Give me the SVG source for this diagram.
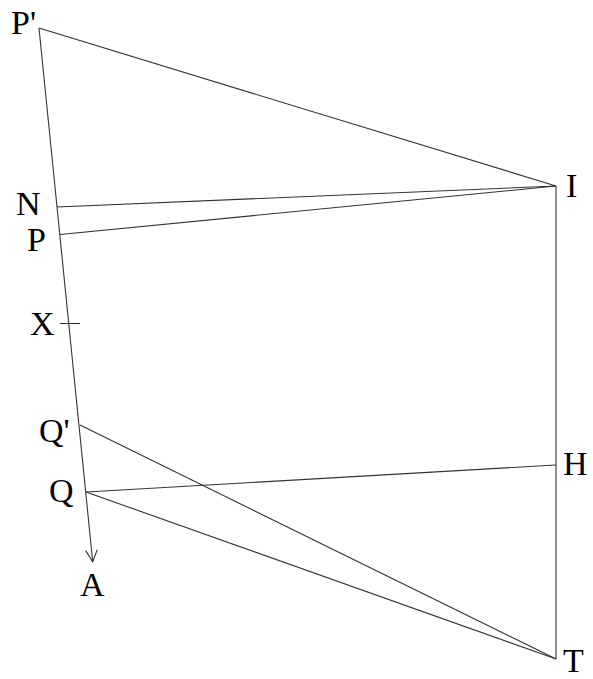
<svg xmlns="http://www.w3.org/2000/svg" width="593" height="679" viewBox="0 0 593 679">
<style>
.l{stroke:#3a3030;stroke-width:1.1;fill:none}
.t{font-family:"Liberation Serif","Times New Roman",serif;font-size:34px;fill:#000}
</style>
<defs>
<marker id="ah" markerWidth="14" markerHeight="14" refX="12" refY="6" orient="auto" markerUnits="userSpaceOnUse">
<path d="M0,0 L12,6 L0,12" fill="none" stroke="#3a3030" stroke-width="1.1"/>
</marker>
</defs>
<rect width="593" height="679" fill="#fff"/>
<g id="connectors">
<line class="l" x1="39" y1="28" x2="92.7" y2="561.7" marker-end="url(#ah)"/>
<line class="l" x1="39" y1="28" x2="556" y2="186"/>
<line class="l" x1="57" y1="207" x2="556" y2="186"/>
<line class="l" x1="60" y1="234.5" x2="556" y2="186"/>
<line class="l" x1="556" y1="186" x2="556" y2="659"/>
<line class="l" x1="80" y1="425" x2="556" y2="659"/>
<line class="l" x1="86" y1="492" x2="556" y2="465"/>
<line class="l" x1="86" y1="492" x2="556" y2="659"/>
<line class="l" x1="60" y1="323.5" x2="80" y2="323.5"/>
</g>
<g id="Pp"><text class="t" x="11" y="34">P'</text></g>
<g id="N"><text class="t" x="16" y="215">N</text></g>
<g id="P"><text class="t" x="27" y="251">P</text></g>
<g id="X"><text class="t" x="30" y="335">X</text></g>
<g id="Qp"><text class="t" x="39" y="442">Q'</text></g>
<g id="Q"><text class="t" x="49" y="502">Q</text></g>
<g id="A"><text class="t" x="80" y="596">A</text></g>
<g id="I"><text class="t" x="566" y="197">I</text></g>
<g id="H"><text class="t" x="563" y="475">H</text></g>
<g id="T"><text class="t" x="563" y="672">T</text></g>
</svg>
